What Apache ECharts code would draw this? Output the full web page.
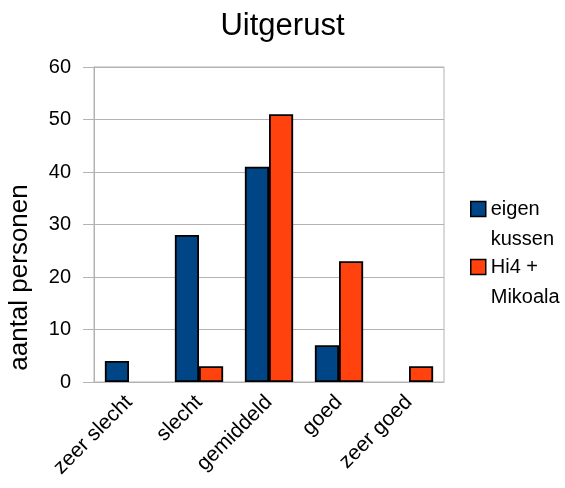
<!DOCTYPE html>
<html>
<head>
<meta charset="utf-8">
<script src="https://cdn.jsdelivr.net/npm/echarts@6/dist/echarts.min.js"></script>
<style>
  html, body { margin: 0; padding: 0; background: #fff; }
  #chart { width: 565px; height: 488px; }
</style>
</head>
<body>
<div id="chart"></div>
<script>
// Survey results: how rested people felt, per pillow type
const categories = ['zeer slecht', 'slecht', 'gemiddeld', 'goed', 'zeer goed'];
const eigenKussen = [4, 28, 41, 7, 0];
const hi4Mikoala = [0, 3, 51, 23, 3];
const seriesNames = ['eigen\nkussen', 'Hi4 +\nMikoala'];

const FONT = '"Liberation Sans", Arial, sans-serif';
const GRID_COLOR = '#b3b3b3';

// empty categories get no bar at all (no flat outline on the axis)
const asBars = values => values.map(v => (v === 0 ? '-' : v));

const chart = echarts.init(document.getElementById('chart'), null, { renderer: 'canvas' });

chart.setOption({
  backgroundColor: '#ffffff',
  animation: false,
  title: {
    text: 'Uitgerust',
    left: 'center',
    top: 6,
    textStyle: { fontFamily: FONT, fontSize: 31, fontWeight: 'normal', color: '#000' }
  },
  legend: {
    orient: 'vertical',
    left: 465,
    top: 159,
    itemWidth: 15,
    itemHeight: 15,
    itemGap: -32,
    icon: 'rect',
    itemStyle: { borderColor: '#000', borderWidth: 1.5 },
    // a leading blank line keeps the swatch level with the first text line
    formatter: name => '\n' + name,
    textStyle: { fontFamily: FONT, fontSize: 20, color: '#000', lineHeight: 30 },
    data: seriesNames
  },
  grid: {
    left: 94, right: 121, top: 67, bottom: 106,
    outerBoundsMode: 'none',
    show: true, borderColor: GRID_COLOR, borderWidth: 1
  },
  xAxis: {
    type: 'category',
    data: categories,
    axisLine: { lineStyle: { color: GRID_COLOR, width: 1 } },
    axisTick: { alignWithLabel: true, length: 10, lineStyle: { color: GRID_COLOR } },
    axisLabel: {
      rotate: 45, fontFamily: FONT, fontSize: 21, color: '#000', margin: 17
    }
  },
  yAxis: {
    type: 'value',
    min: 0, max: 60, interval: 10,
    name: 'aantal personen',
    nameLocation: 'middle',
    nameGap: 61,
    nameTextStyle: {
      fontFamily: FONT, fontSize: 26, color: '#000',
      padding: [0, 106, 0, 0]
    },
    axisLine: { show: true, lineStyle: { color: GRID_COLOR, width: 1 } },
    axisTick: { show: true, length: 11, lineStyle: { color: GRID_COLOR } },
    axisLabel: { fontFamily: FONT, fontSize: 20, color: '#000', margin: 23 },
    splitLine: { lineStyle: { color: GRID_COLOR, width: 1 } }
  },
  series: [
    {
      name: seriesNames[0],
      type: 'bar',
      data: asBars(eigenKussen),
      barGap: '0%',
      barCategoryGap: '31%',
      itemStyle: { color: '#004586', borderColor: '#000', borderWidth: 1.8 }
    },
    {
      name: seriesNames[1],
      type: 'bar',
      data: asBars(hi4Mikoala),
      itemStyle: { color: '#ff420e', borderColor: '#000', borderWidth: 1.8 }
    }
  ]
});
</script>
</body>
</html>
